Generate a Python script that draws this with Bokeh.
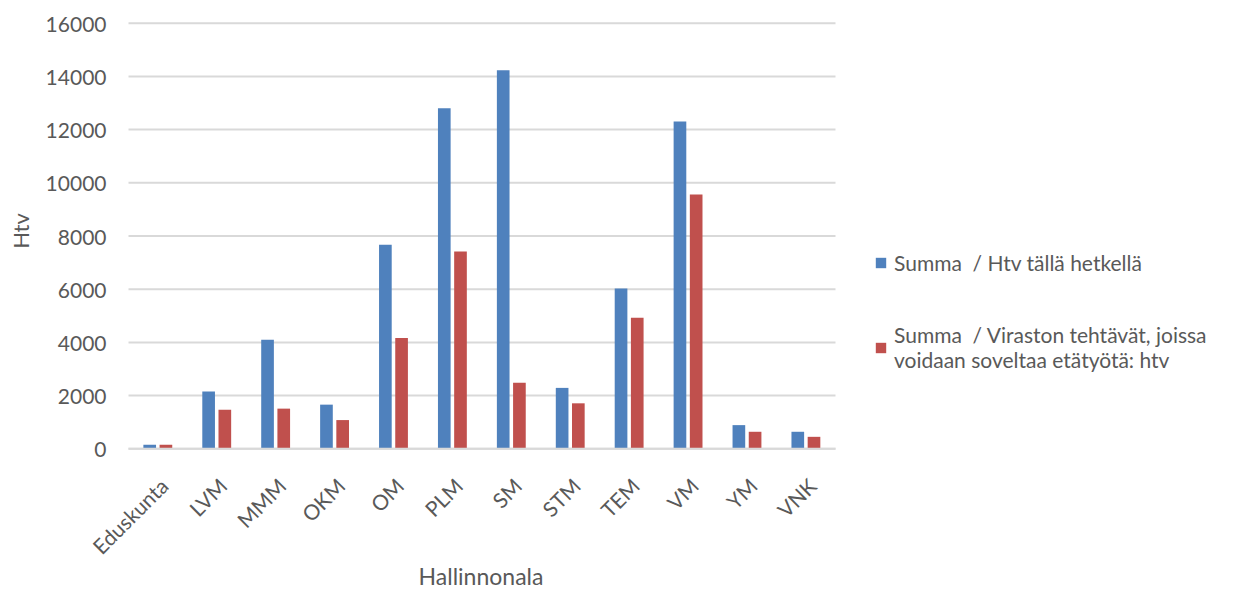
from math import pi
from bokeh.plotting import figure
from bokeh.models import ColumnDataSource, Range1d, Legend, LegendItem
from bokeh.core.properties import value
from bokeh.transform import dodge
from bokeh.embed import file_html
from bokeh.resources import INLINE

categories = ["Eduskunta", "LVM", "MMM", "OKM", "OM", "PLM", "SM", "STM", "TEM", "VM", "YM", "VNK"]
htv_nyt = [150, 2150, 4100, 1660, 7670, 12800, 14230, 2290, 6030, 12300, 890, 640]
htv_eta = [150, 1470, 1510, 1080, 4170, 7420, 2480, 1710, 4930, 9560, 640, 450]
series_labels = ["Summa  / Htv tällä hetkellä",
                 "Summa  / Viraston tehtävät, joissa\nvoidaan soveltaa etätyötä: htv"]
y_ticks = list(range(0, 16001, 2000))
y_tick_labels = [str(v) for v in y_ticks]
y_title = "Htv"
x_title = "Hallinnonala"

FONT = "Lato"
GRAY = "#595959"
GRID = "#D9D9D9"

# ---- layout (pixels) : the frame covers the whole canvas ----
W, H = 1227, 590
n = len(categories)
plot_left, plot_w = 128, 707          # category area
plot_top, plot_h = 22.7, 425.6        # value area (0..16000)
y_max = 16000
slot_px = plot_w / n
ppu = plot_h / y_max
x_range = Range1d(-plot_left / slot_px, (W - plot_left) / slot_px)
y_range = Range1d(-(H - plot_top - plot_h) / ppu, y_max + plot_top / ppu)

xpos = [i + 0.5 for i in range(n)]
src = ColumnDataSource(dict(x=xpos, cat=categories, a=htv_nyt, b=htv_eta))

p = figure(width=W, height=H, x_range=x_range, y_range=y_range,
           output_backend="svg", toolbar_location=None, min_border=0)
p.outline_line_color = None
p.background_fill_color = "white"
p.xgrid.visible = False
p.ygrid.visible = False
p.xaxis.visible = False
p.yaxis.visible = False

# gridlines
p.segment(x0=[0] * len(y_ticks), x1=[n] * len(y_ticks), y0=y_ticks, y1=y_ticks,
          line_color=GRID, line_width=2)

r1 = p.vbar(x=dodge("x", -0.14), top="a", width=0.215, source=src,
            fill_color="#4F81BD", line_color=None)
r2 = p.vbar(x=dodge("x", 0.135), top="b", width=0.215, source=src,
            fill_color="#C0504D", line_color=None)

# category axis baseline
p.segment(x0=[0], x1=[n], y0=[0], y1=[0], line_color=GRID, line_width=2)

# value tick labels
p.text(x=[0] * len(y_ticks), y=y_ticks, text=y_tick_labels, x_offset=-22, y_offset=1,
       text_align="right", text_baseline="middle", text_font=value(FONT),
       text_font_size="21px", text_color=GRAY)

# category labels, rotated 45 degrees
p.text(x=xpos, y=[0] * n, text=categories, angle=pi / 4, x_offset=6, y_offset=33,
       text_align="right", text_baseline="middle", text_font=value(FONT),
       text_font_size="21px", text_color=GRAY)

# axis titles
p.text(x=[0], y=[y_max / 2], text=[y_title], angle=pi / 2, x_offset=-108, y_offset=-5,
       text_align="center", text_baseline="middle", text_font=value(FONT),
       text_font_size="22px", text_color=GRAY)
p.text(x=[n / 2], y=[0], text=[x_title], x_offset=-1, y_offset=127,
       text_align="center", text_baseline="middle", text_font=value(FONT),
       text_font_size="23px", text_color=GRAY)

legend = Legend(items=[LegendItem(label=series_labels[0], renderers=[r1]),
                       LegendItem(label=series_labels[1], renderers=[r2])],
                location=(874, 218), orientation="vertical",
                border_line_color=None, background_fill_alpha=0,
                padding=0, margin=0, spacing=47,
                glyph_width=13, glyph_height=13, label_standoff=7,
                label_text_font=FONT, label_text_font_size="21px",
                label_text_color=GRAY, label_text_line_height=1.38)
p.add_layout(legend, "center")

open("out.html", "w").write(file_html(p, INLINE))
